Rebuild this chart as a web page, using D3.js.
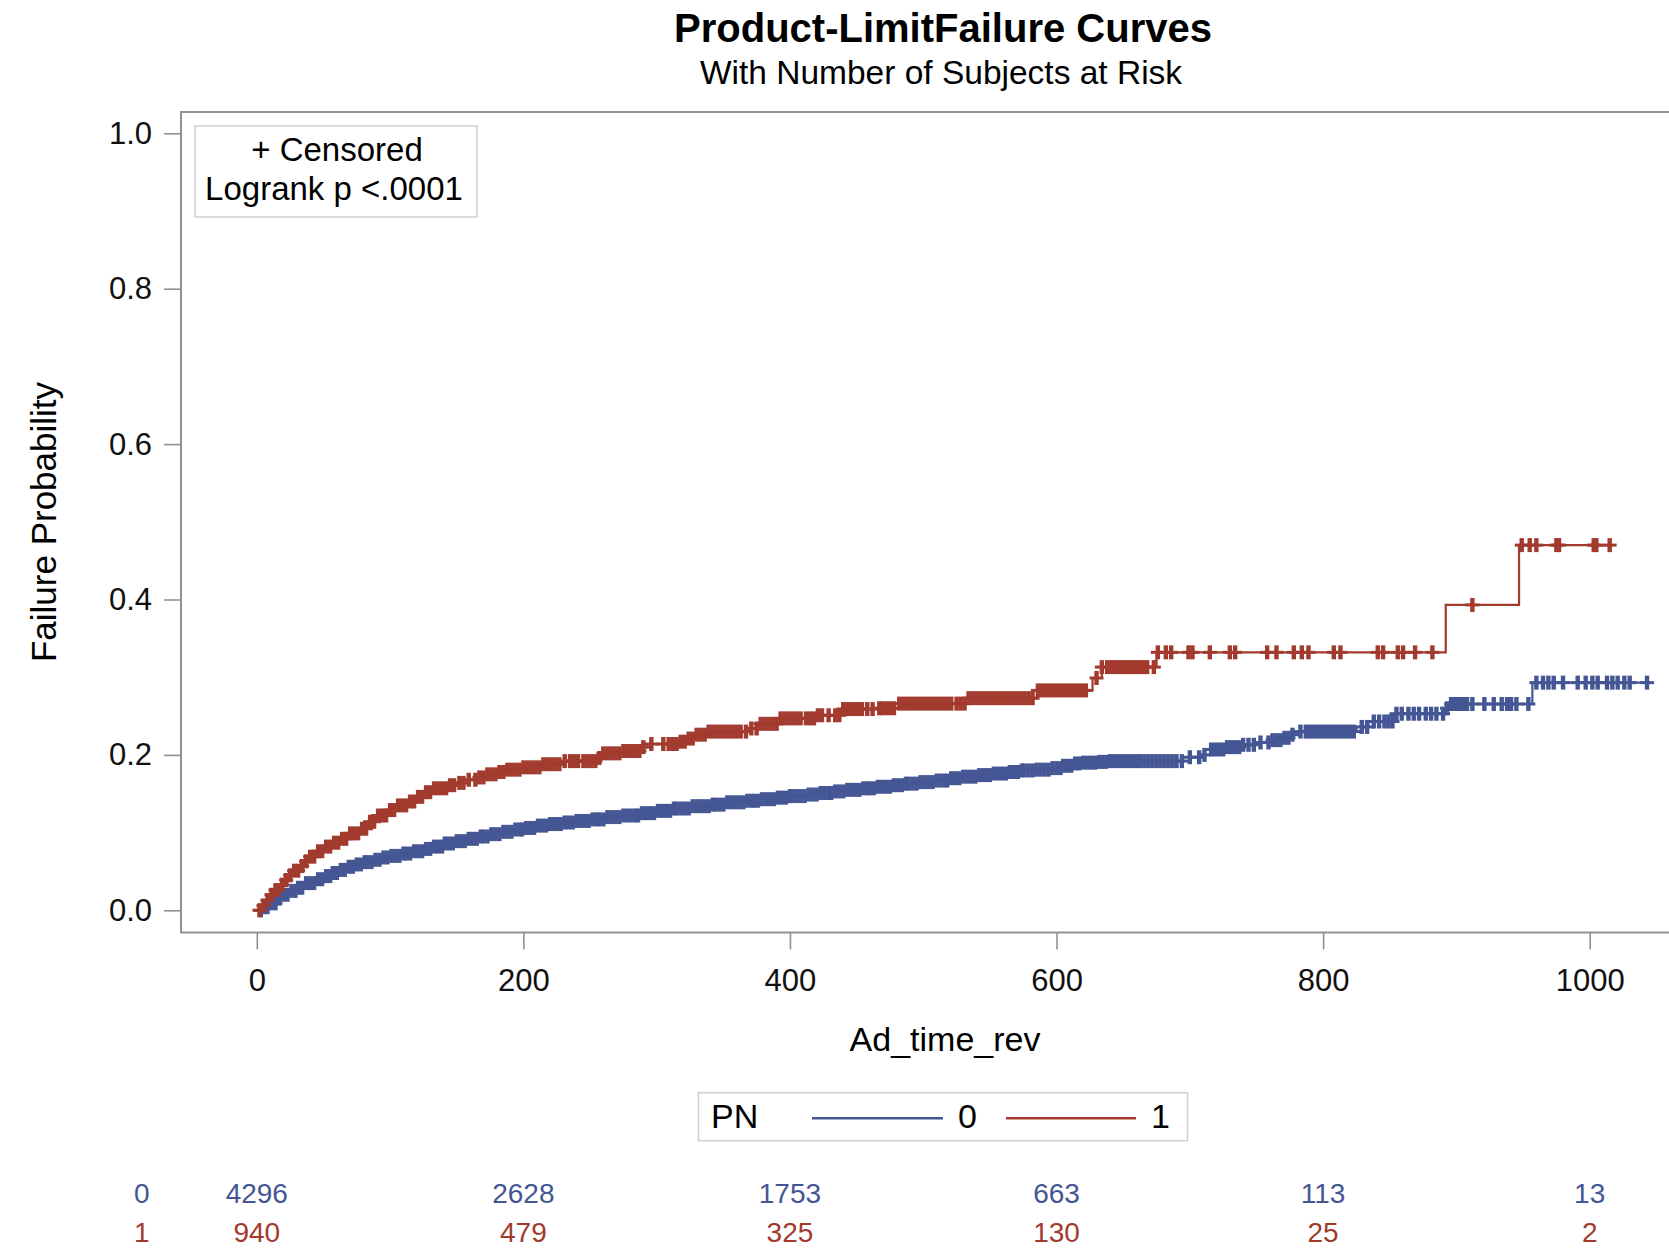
<!DOCTYPE html>
<html>
<head>
<meta charset="utf-8">
<script src="https://cdn.jsdelivr.net/npm/d3@7"></script>
<style>
  html, body { margin: 0; padding: 0; background: #fff; }
  svg { display: block; font-family: "Liberation Sans", Arial, sans-serif; }
</style>
</head>
<body>
<svg id="chart" width="1669" height="1248"></svg>
<script>
// Product-limit failure estimates, PN = 0 : [time, failure probability] at each event step
const stepsPN0 = [
  [0,0],[5,0.004],[10,0.009],[15,0.015],[20,0.020],[25,0.025],[30,0.029],[37,0.035],[44,0.040],
  [50,0.044],[56,0.048],[62,0.052],[69,0.056],[75,0.059],[81,0.062],[87,0.065],[94,0.068],[100,0.070],
  [108,0.073],[116,0.076],[125,0.079],[133,0.082],[141,0.086],[150,0.089],[158,0.092],[166,0.095],
  [175,0.098],[183,0.101],[192,0.104],[200,0.106],[210,0.109],[220,0.111],[230,0.113],[240,0.115],
  [250,0.117],[262,0.120],[274,0.122],[287,0.125],[300,0.128],[313,0.131],[327,0.134],[340,0.136],
  [353,0.139],[366,0.141],[378,0.143],[390,0.145],[400,0.147],[412,0.149],[422,0.151],[433,0.153],
  [443,0.155],[454,0.157],[465,0.159],[476,0.161],[486,0.163],[497,0.165],[508,0.167],[519,0.170],
  [530,0.172],[541,0.174],[552,0.176],[563,0.178],[573,0.180],[585,0.181],[595,0.183],[604,0.186],
  [612,0.189],[620,0.190],[630,0.191],[639,0.192],[695,0.197],[708,0.200],[716,0.207],[728,0.210],
  [738,0.213],[750,0.216],[760,0.219],[769,0.222],[775,0.226],[782,0.230],[825,0.236],[834,0.243],
  [854,0.253],[891,0.260],[895,0.2655],[957,0.293]
];
// Censored times, PN = 0
const censorPN0 = [
  3,6,8,11,14,17,20,23,26,29,31,34,37,40,43,46,49,52,55,57,60,63,66,69,72,75,78,81,83,86,89,92,95,98,
  101,104,107,110,112,115,118,121,124,127,130,133,136,139,141,144,147,150,153,156,159,162,165,168,170,
  173,176,179,182,185,188,191,194,197,199,202,205,208,211,214,217,220,223,226,228,231,234,237,240,243,
  246,249,252,255,257,260,263,266,269,272,275,278,281,284,286,289,292,295,298,301,304,307,310,313,315,
  318,321,324,327,330,333,336,339,342,344,347,350,353,356,359,362,365,368,371,373,376,379,382,385,388,
  391,394,397,400,402,405,408,411,414,417,420,423,426,429,431,434,437,440,443,446,449,452,455,458,460,
  463,466,469,472,475,478,481,484,487,489,492,495,498,501,504,507,510,513,516,518,521,524,527,530,533,
  536,539,542,545,547,550,553,556,559,562,565,568,571,574,576,579,582,585,588,591,594,597,600,603,605,
  608,611,614,617,620,623,626,629,632,634,637,640,643,646,649,652,655,658,661,663,666,669,672,675,678,
  681,684,687,690,694,700,707,711,716,719,722,725,728,731,734,737,740,744,748,753,759,762,765,768,771,
  774,777,783,787,790,793,796,799,802,805,808,811,814,817,820,823,829,833,838,842,846,849,852,855,859,
  864,868,872,877,881,885,890,893,896,899,902,905,908,912,921,928,934,938,941,945,954,960,965,969,973,
  980,991,997,1002,1006,1013,1017,1021,1026,1030,1043
];

// Product-limit failure estimates, PN = 1
const stepsPN1 = [
  [0,0],[3,0.006],[6,0.013],[9,0.020],[13,0.026],[17,0.033],[20,0.039],[24,0.045],[28,0.051],
  [32,0.057],[36,0.063],[40,0.069],[45,0.076],[51,0.082],[57,0.087],[63,0.092],[70,0.099],[77,0.105],
  [84,0.114],[91,0.122],[98,0.129],[106,0.135],[114,0.140],[120,0.146],[126,0.152],[133,0.157],
  [143,0.161],[150,0.164],[158,0.168],[165,0.171],[172,0.175],[180,0.178],[186,0.181],[200,0.184],
  [215,0.188],[229,0.192],[256,0.196],[259,0.202],[275,0.205],[290,0.210],[293,0.214],[316,0.217],
  [322,0.221],[330,0.226],[338,0.230],[370,0.234],[376,0.240],[393,0.247],[421,0.251],[438,0.259],
  [465,0.260],[482,0.266],[534,0.273],[586,0.283],[627,0.299],[634,0.313],[675,0.332],[892,0.393],
  [947,0.470]
];
// Censored times, PN = 1
const censorPN1 = [
  2,5,8,11,14,16,19,22,25,28,31,34,37,40,43,46,49,52,55,58,61,64,67,70,73,76,79,82,85,88,91,94,97,100,
  103,106,109,112,115,118,121,124,127,130,133,136,139,142,145,148,152,155,159,164,167,170,173,176,179,
  182,185,188,191,194,197,200,203,206,209,212,215,218,221,224,227,231,235,238,241,245,248,251,254,257,
  260,263,266,269,272,275,278,281,284,287,290,296,305,309,312,315,318,321,324,327,330,333,336,339,342,
  345,348,351,354,357,360,363,367,371,375,378,381,384,387,390,393,396,399,402,405,408,412,415,418,421,
  424,429,434,437,440,443,446,449,452,454,458,462,467,469,472,475,478,482,485,488,491,494,497,500,503,
  506,509,512,515,518,521,525,528,531,534,537,540,543,546,549,552,555,558,561,564,567,570,573,576,579,
  582,586,589,592,595,598,601,604,607,610,613,616,619,622,630,634,638,641,644,647,650,653,656,659,662,
  665,668,673,676,682,686,699,702,715,730,734,758,765,778,784,789,808,813,841,845,856,860,869,882,912,
  949,955,960,975,977,1003,1005,1015
];

// Number of subjects at risk
const riskTimes = [0, 200, 400, 600, 800, 1000];
const riskPN0 = [4296, 2628, 1753, 663, 113, 13];
const riskPN1 = [940, 479, 325, 130, 25, 2];

const xTicks = [0, 200, 400, 600, 800, 1000];
const yTicks = [0.0, 0.2, 0.4, 0.6, 0.8, 1.0];
const groups = ["0", "1"];

const colors = { "0": "#445694", "1": "#A23A2E" };
const axisGray = "#8f9295";

const svg = d3.select("#chart");
svg.append("rect").attr("width", 1669).attr("height", 1248).attr("fill", "#fff");

const x = d3.scaleLinear().domain([0, 1000]).range([256.8, 1589.7]);
const y = d3.scaleLinear().domain([0, 1]).range([910.3, 133.3]);

const frame = { left: 181, top: 112, bottom: 932.5, right: 1700 };

// titles
svg.append("text").attr("x", 943).attr("y", 42).attr("text-anchor", "middle")
  .attr("font-size", 40).attr("font-weight", "bold").attr("fill", "#000")
  .text("Product-LimitFailure Curves");
svg.append("text").attr("x", 941).attr("y", 83.5).attr("text-anchor", "middle")
  .attr("font-size", 33.5).attr("fill", "#000")
  .text("With Number of Subjects at Risk");

// axes
const yAxis = d3.axisLeft(y).tickValues(yTicks).tickFormat(d3.format(".1f"))
  .tickSize(17).tickPadding(12);
const gy = svg.append("g").attr("transform", `translate(${frame.left},0)`).call(yAxis);

const xAxis = d3.axisBottom(x).tickValues(xTicks).tickFormat(d3.format("d"))
  .tickSize(17).tickPadding(19);
const gx = svg.append("g").attr("transform", `translate(0,${frame.bottom})`).call(xAxis);

[gx, gy].forEach(g => {
  g.select(".domain").remove();
  g.selectAll(".tick line").attr("stroke", axisGray).attr("stroke-width", 1.6);
  g.selectAll(".tick text").attr("font-size", 31).attr("fill", "#111")
    .attr("font-family", "'Liberation Sans', Arial, sans-serif");
});

// plot frame (right edge runs past the page)
svg.append("path")
  .attr("d", `M${frame.right},${frame.top}H${frame.left}V${frame.bottom}H${frame.right}`)
  .attr("fill", "none").attr("stroke", axisGray).attr("stroke-width", 2);

// axis labels
svg.append("text").attr("transform", "translate(56,522) rotate(-90)")
  .attr("text-anchor", "middle").attr("font-size", 35).attr("fill", "#000")
  .text("Failure Probability");
svg.append("text").attr("x", 945).attr("y", 1051).attr("text-anchor", "middle")
  .attr("font-size", 34).attr("fill", "#000").text("Ad_time_rev");

// curves
const plot = svg.append("g");
const series = [
  { key: "0", steps: stepsPN0, censor: censorPN0 },
  { key: "1", steps: stepsPN1, censor: censorPN1 }
];
const bis = d3.bisector(d => d[0]).right;
const valueAt = (steps, t) => steps[Math.max(0, bis(steps, t) - 1)][1];

const line = d3.line().x(d => x(d[0])).y(d => y(d[1])).curve(d3.curveStepAfter);
const markHalf = 7;

series.forEach(s => {
  const lastT = d3.max(s.censor);
  const pts = s.steps.concat([[lastT, s.steps[s.steps.length - 1][1]]]);
  plot.append("path").datum(pts).attr("d", line)
    .attr("fill", "none").attr("stroke", colors[s.key]).attr("stroke-width", 2.2);

  // censor "+" marks: a thin horizontal bar and a heavier vertical bar
  const marks = plot.append("g");
  marks.selectAll("path.h").data(s.censor).join("path").attr("class", "h")
    .attr("d", t => {
      const cx = x(t), cy = y(valueAt(s.steps, t));
      return `M${cx - markHalf},${cy}H${cx + markHalf}`;
    })
    .attr("stroke", colors[s.key]).attr("stroke-width", 3).attr("fill", "none");
  marks.selectAll("path.v").data(s.censor).join("path").attr("class", "v")
    .attr("d", t => {
      const cx = x(t), cy = y(valueAt(s.steps, t));
      return `M${cx},${cy - markHalf}V${cy + markHalf}`;
    })
    .attr("stroke", colors[s.key]).attr("stroke-width", 4.4).attr("fill", "none");
});

// inset box
const inset = svg.append("g");
inset.append("rect").attr("x", 195).attr("y", 126).attr("width", 282).attr("height", 91)
  .attr("fill", "#fff").attr("stroke", "#cfcfcf").attr("stroke-width", 1.5);
inset.append("text").attr("x", 337).attr("y", 161).attr("text-anchor", "middle")
  .attr("font-size", 33).attr("fill", "#000").text("+ Censored");
inset.append("text").attr("x", 334).attr("y", 200).attr("text-anchor", "middle")
  .attr("font-size", 33).attr("fill", "#000").text("Logrank p <.0001");

// group legend
const leg = svg.append("g");
leg.append("rect").attr("x", 698.5).attr("y", 1092.7).attr("width", 489).attr("height", 48)
  .attr("fill", "#fff").attr("stroke", "#cfcfcf").attr("stroke-width", 1.5);
leg.append("text").attr("x", 711).attr("y", 1127.5).attr("font-size", 34).attr("fill", "#000").text("PN");
const legItems = [
  { key: groups[0], x1: 812, x2: 943, tx: 958 },
  { key: groups[1], x1: 1006, x2: 1136, tx: 1151 }
];
legItems.forEach(d => {
  leg.append("line").attr("x1", d.x1).attr("x2", d.x2).attr("y1", 1118.3).attr("y2", 1118.3)
    .attr("stroke", colors[d.key]).attr("stroke-width", 2.5);
  leg.append("text").attr("x", d.tx).attr("y", 1127.5).attr("font-size", 34)
    .attr("fill", "#000").text(d.key);
});

// at-risk table
const riskRows = [
  { key: groups[0], vals: riskPN0, base: 1203.3 },
  { key: groups[1], vals: riskPN1, base: 1241.7 }
];
riskRows.forEach(r => {
  svg.append("text").attr("x", 134).attr("y", r.base).attr("font-size", 28)
    .attr("fill", colors[r.key]).text(r.key);
  svg.append("g").selectAll("text").data(r.vals).join("text")
    .attr("x", (d, i) => x(riskTimes[i])).attr("y", r.base)
    .attr("text-anchor", "middle").attr("font-size", 28).attr("fill", colors[r.key])
    .text(d => d);
});
</script>
</body>
</html>
